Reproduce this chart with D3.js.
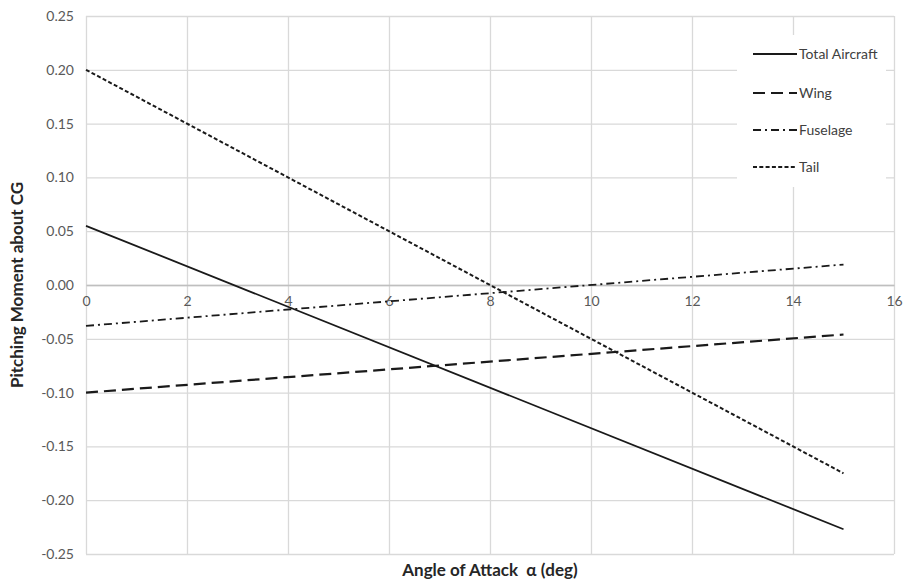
<!DOCTYPE html>
<html>
<head>
<meta charset="utf-8">
<script src="https://cdn.jsdelivr.net/npm/d3@7"></script>
<style>
  html, body { margin: 0; padding: 0; background: #fff; }
  svg { display: block; font-family: Lato, "Open Sans", "Liberation Sans", sans-serif; }
</style>
</head>
<body>
<svg id="chart" width="904" height="581"></svg>
<script>
// Angle of attack (deg) at the start and end of each line
const angles = [0, 15];

// Pitching moment contributions about the CG
const totalAircraft = [0.055, -0.227];
const wing = [-0.100, -0.046];
const fuselage = [-0.038, 0.019];
const tail = [0.200, -0.175];

const seriesNames = ["Total Aircraft", "Wing", "Fuselage", "Tail"];

// Axis ticks
const xTicks = [0, 2, 4, 6, 8, 10, 12, 14, 16];
const yTicks = [0.25, 0.20, 0.15, 0.10, 0.05, 0.00, -0.05, -0.10, -0.15, -0.20, -0.25];
const yTickLabels = ["0.25", "0.20", "0.15", "0.10", "0.05", "0.00", "-0.05", "-0.10", "-0.15", "-0.20", "-0.25"];

const xTitle = "Angle of Attack  \u03b1 (deg)";
const yTitle = "Pitching Moment about CG";

const series = [
  { name: seriesNames[0], values: totalAircraft, dash: null, width: 1.8 },
  { name: seriesNames[1], values: wing, dash: "12,6", width: 2.2 },
  { name: seriesNames[2], values: fuselage, dash: "8,4,2,4", width: 1.8 },
  { name: seriesNames[3], values: tail, dash: "4,2.3", width: 2 }
];

const svg = d3.select("#chart");
const plot = { left: 86, right: 894, top: 16, bottom: 554 };

const x = d3.scaleLinear().domain([0, 16]).range([plot.left, plot.right]);
const y = d3.scaleLinear().domain([-0.25, 0.25]).range([plot.bottom, plot.top]);

const gridColor = "#d9d9d9";
const labelColor = "#595959";

// Horizontal gridlines + y tick labels
const yAxis = svg.append("g")
  .attr("transform", `translate(${plot.left},0)`)
  .call(d3.axisLeft(y)
    .tickValues(yTicks)
    .tickSize(-(plot.right - plot.left))
    .tickPadding(12)
    .tickFormat((d, i) => yTickLabels[i]));
yAxis.select(".domain").remove();
yAxis.selectAll(".tick line").attr("stroke", gridColor).attr("stroke-width", 1.3);
yAxis.selectAll(".tick text")
  .attr("fill", labelColor)
  .style("font-size", "14px")
  .style("font-family", "Lato, 'Open Sans', sans-serif");

// Vertical gridlines
const xGrid = svg.append("g")
  .attr("transform", `translate(0,${plot.bottom})`)
  .call(d3.axisBottom(x)
    .tickValues(xTicks)
    .tickSize(-(plot.bottom - plot.top))
    .tickFormat(""));
xGrid.select(".domain").remove();
xGrid.selectAll(".tick line").attr("stroke", gridColor).attr("stroke-width", 1.3);

// Zero line with x tick labels just below it
const xAxis = svg.append("g")
  .attr("transform", `translate(0,${y(0)})`)
  .call(d3.axisBottom(x)
    .tickValues(xTicks)
    .tickSize(0)
    .tickPadding(11)
    .tickFormat(d3.format("d")));
xAxis.select(".domain").attr("stroke", "#bfbfbf").attr("stroke-width", 1.3);
xAxis.selectAll(".tick text")
  .attr("fill", labelColor)
  .style("font-size", "14px")
  .style("font-family", "Lato, 'Open Sans', sans-serif");

// Legend background (covers the grid behind it)
const legend = svg.append("g");
legend.append("rect")
  .attr("x", 737).attr("y", 35)
  .attr("width", 149).attr("height", 152)
  .attr("fill", "#fff");

// Lines
const line = d3.line()
  .x((d, i) => x(angles[i]))
  .y(d => y(d));

svg.append("g").selectAll("path")
  .data(series)
  .join("path")
  .attr("d", d => line(d.values))
  .attr("fill", "none")
  .attr("stroke", "#1a1a1a")
  .attr("stroke-width", d => d.width)
  .attr("stroke-dasharray", d => d.dash);

// Legend entries
const legendY = [54, 93, 130, 167];
const items = legend.selectAll("g.item")
  .data(series)
  .join("g")
  .attr("class", "item")
  .attr("transform", (d, i) => `translate(753,${legendY[i]})`);
items.append("line")
  .attr("x1", 0).attr("x2", 44)
  .attr("stroke", "#1a1a1a")
  .attr("stroke-width", d => d.width)
  .attr("stroke-dasharray", d => d.dash);
items.append("text")
  .attr("x", 46)
  .attr("dy", "0.35em")
  .attr("fill", "#404040")
  .style("font-size", "14px")
  .text(d => d.name);

// Axis titles
svg.append("text")
  .attr("x", (plot.left + plot.right) / 2)
  .attr("y", 576)
  .attr("text-anchor", "middle")
  .attr("fill", "#262626")
  .style("font-size", "17px")
  .style("font-weight", "bold")
  .style("white-space", "pre")
  .text(xTitle);

svg.append("text")
  .attr("transform", `translate(23,${(plot.top + plot.bottom) / 2}) rotate(-90)`)
  .attr("text-anchor", "middle")
  .attr("fill", "#262626")
  .style("font-size", "17px")
  .style("font-weight", "bold")
  .text(yTitle);
</script>
</body>
</html>
